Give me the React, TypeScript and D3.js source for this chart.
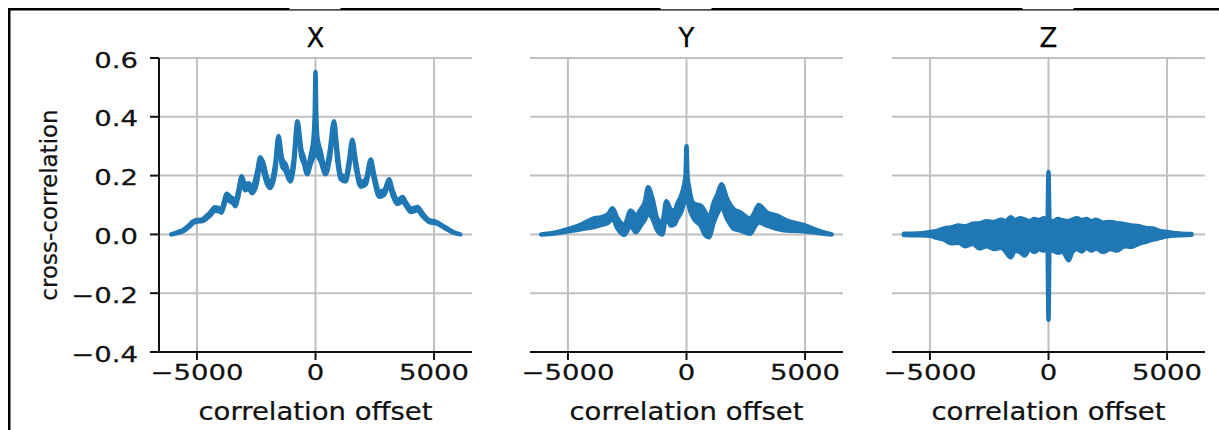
import * as d3 from "d3";

const offsetsX = [-6080, -5800, -5580, -5350, -5150, -4950, -4800, -4660, -4450, -4240, -4100, -3960, -3850, -3750, -3600, -3450, -3390, -3250, -3110, -2970, -2820, -2680, -2470, -2330, -2190, -2050, -1910, -1700, -1560, -1410, -1270, -1060, -920, -760, -600, -490, -350, -200, -80, -30, 0, 30, 80, 210, 424, 600, 780, 920, 1060, 1270, 1410, 1550, 1700, 1910, 2120, 2330, 2470, 2690, 2900, 3100, 3250, 3460, 3670, 3810, 4030, 4300, 4520, 4800, 5080, 5440, 5790, 6100];
const hiX = [0.0, 0.008, 0.015, 0.03, 0.045, 0.049, 0.05, 0.058, 0.074, 0.092, 0.09, 0.086, 0.115, 0.138, 0.128, 0.118, 0.106, 0.15, 0.198, 0.168, 0.174, 0.16, 0.21, 0.262, 0.24, 0.195, 0.172, 0.24, 0.335, 0.258, 0.24, 0.196, 0.255, 0.385, 0.29, 0.262, 0.222, 0.27, 0.33, 0.42, 0.552, 0.42, 0.33, 0.285, 0.222, 0.285, 0.385, 0.285, 0.205, 0.195, 0.25, 0.322, 0.25, 0.178, 0.188, 0.255, 0.205, 0.145, 0.15, 0.188, 0.15, 0.116, 0.127, 0.11, 0.088, 0.093, 0.071, 0.048, 0.043, 0.026, 0.009, 0.0];
const loX = [0.0, 0.005, 0.011, 0.024, 0.039, 0.044, 0.045, 0.05, 0.064, 0.08, 0.08, 0.074, 0.1, 0.122, 0.112, 0.104, 0.096, 0.13, 0.18, 0.15, 0.156, 0.14, 0.175, 0.24, 0.21, 0.172, 0.158, 0.212, 0.31, 0.232, 0.216, 0.18, 0.228, 0.36, 0.265, 0.24, 0.205, 0.24, 0.27, 0.35, 0.54, 0.35, 0.27, 0.25, 0.205, 0.255, 0.36, 0.25, 0.188, 0.18, 0.225, 0.3, 0.225, 0.162, 0.17, 0.232, 0.185, 0.128, 0.135, 0.17, 0.133, 0.104, 0.112, 0.098, 0.076, 0.082, 0.062, 0.042, 0.038, 0.022, 0.007, 0.0];

const offsetsY = [-6130, -5570, -4870, -4400, -3960, -3610, -3300, -3120, -2910, -2630, -2350, -2140, -1930, -1760, -1620, -1430, -1230, -1020, -850, -670, -500, -390, -180, -40, 0, 40, 100, 310, 590, 800, 940, 1150, 1300, 1470, 1710, 1990, 2270, 2690, 2870, 3040, 3390, 3810, 4230, 4930, 5630, 6120];
const hiY = [0.0, 0.006, 0.021, 0.035, 0.053, 0.058, 0.07, 0.089, 0.055, 0.032, 0.081, 0.064, 0.086, 0.11, 0.16, 0.121, 0.053, 0.041, 0.113, 0.086, 0.08, 0.104, 0.143, 0.2, 0.3, 0.2, 0.165, 0.104, 0.098, 0.075, 0.053, 0.109, 0.135, 0.171, 0.121, 0.086, 0.075, 0.053, 0.075, 0.1, 0.075, 0.064, 0.047, 0.032, 0.011, 0.0];
const loY = [0.0, 0.003, 0.012, 0.018, 0.024, 0.032, 0.04, 0.053, 0.02, -0.002, 0.03, 0.007, 0.03, 0.05, 0.07, 0.053, 0.013, 0.0, 0.064, 0.03, 0.035, 0.053, 0.086, 0.14, 0.18, 0.13, 0.098, 0.053, 0.03, -0.004, -0.01, 0.041, 0.07, 0.092, 0.053, 0.019, 0.013, 0.002, 0.025, 0.041, 0.03, 0.019, 0.013, 0.011, 0.004, 0.0];

const offsetsZ = [-6100, -5500, -5000, -4700, -4400, -4100, -3800, -3500, -3200, -2900, -2600, -2300, -2000, -1800, -1600, -1400, -1200, -1000, -800, -600, -400, -200, -40, 0, 40, 200, 400, 600, 850, 1000, 1200, 1400, 1600, 1800, 2000, 2300, 2600, 2900, 3200, 3500, 3800, 4100, 4400, 4700, 5000, 5500, 6030];
const hiZ = [0.002, 0.003, 0.008, 0.012, 0.02, 0.024, 0.03, 0.028, 0.036, 0.038, 0.045, 0.042, 0.05, 0.045, 0.058, 0.048, 0.055, 0.05, 0.045, 0.052, 0.048, 0.055, 0.05, 0.212, 0.05, 0.045, 0.052, 0.048, 0.045, 0.05, 0.055, 0.048, 0.052, 0.045, 0.05, 0.04, 0.042, 0.038, 0.035, 0.03, 0.028, 0.022, 0.02, 0.012, 0.008, 0.003, 0.001];
const loZ = [-0.002, -0.003, -0.005, -0.012, -0.018, -0.03, -0.028, -0.04, -0.032, -0.048, -0.04, -0.05, -0.045, -0.06, -0.078, -0.055, -0.06, -0.072, -0.05, -0.06, -0.05, -0.055, -0.05, -0.29, -0.05, -0.055, -0.062, -0.058, -0.088, -0.06, -0.05, -0.058, -0.045, -0.055, -0.048, -0.06, -0.05, -0.055, -0.04, -0.042, -0.032, -0.025, -0.018, -0.012, -0.006, -0.003, -0.001];

const titles = ["X", "Y", "Z"];
const xTicks = [-5000, 0, 5000];
const yTicks = [-0.4, -0.2, 0.0, 0.2, 0.4, 0.6];

const W = 313;
const TOP = 58;
const H = 294;
const lefts = [159, 530, 892];
const FONT = "DejaVu Sans";
const BLUE = "#1f77b4";
const INK = "#111";

// the reference text is slightly soft, a thin outline gives it the same weight
const textStyle = { fontFamily: FONT, fill: INK, stroke: INK, strokeWidth: 0.25 };

function Panel({ title, offsets, hi, lo, left, showY }) {
  const x = d3.scaleLinear().domain([-6600, 6600]).range([0, W]);
  const y = d3.scaleLinear().domain([-0.4, 0.6]).range([H, 0]);
  const idx = d3.range(offsets.length);
  const band = d3
    .area<number>()
    .x((i) => x(offsets[i]))
    .y0((i) => y(lo[i]))
    .y1((i) => y(hi[i]))
    .curve(d3.curveMonotoneX);
  const fx = d3.format("d");
  const fy = d3.format(".1f");

  return (
    <g transform={`translate(${left},${TOP})`}>
      {/* grid */}
      {yTicks.map((t) => (
        <line key={"gy" + t} x1={0} x2={W} y1={y(t)} y2={y(t)} stroke="#c0c0c0" strokeWidth={2} />
      ))}
      {xTicks.map((t) => (
        <line key={"gx" + t} x1={x(t)} x2={x(t)} y1={0} y2={H} stroke="#c0c0c0" strokeWidth={2} />
      ))}

      <path d={band(idx)} fill={BLUE} stroke={BLUE} strokeWidth={4.5} strokeLinejoin="round" />

      {/* bottom axis */}
      <line x1={showY ? -1 : 0} x2={W} y1={H} y2={H} stroke={INK} strokeWidth={2} />
      {xTicks.map((t) => (
        <g key={"tx" + t}>
          <line x1={x(t)} x2={x(t)} y1={H} y2={H + 8} stroke={INK} strokeWidth={2} />
          <text
            transform={`translate(${x(t)},${H + 28}) scale(1.25,1)`}
            textAnchor="middle"
            fontSize={22}
            style={textStyle}
          >
            {fx(t)}
          </text>
        </g>
      ))}

      {showY && (
        <g>
          <line x1={0} x2={0} y1={0} y2={H + 1} stroke={INK} strokeWidth={2} />
          {yTicks.map((t) => (
            <g key={"ty" + t}>
              <line x1={-9} x2={0} y1={y(t)} y2={y(t)} stroke={INK} strokeWidth={2} />
              <text
                transform={`translate(-21,${y(t) + 9.5}) scale(1.25,1)`}
                textAnchor="end"
                fontSize={22}
                style={textStyle}
              >
                {fy(t)}
              </text>
            </g>
          ))}
          <text
            transform={`translate(-102,${H / 2}) rotate(-90)`}
            textAnchor="middle"
            fontSize={23}
            style={textStyle}
          >
            cross-correlation
          </text>
        </g>
      )}

      <text x={W / 2} y={-11} textAnchor="middle" fontSize={26} style={{ ...textStyle, fill: "#000", stroke: "#000" }}>
        {title}
      </text>
      <text
        transform={`translate(${W / 2},${H + 68}) scale(1.1,1)`}
        textAnchor="middle"
        fontSize={25}
        style={textStyle}
      >
        correlation offset
      </text>
    </g>
  );
}

export default function App() {
  const series = [
    [offsetsX, hiX, loX],
    [offsetsY, hiY, loY],
    [offsetsZ, hiZ, loZ],
  ];
  return (
    <svg
      width={1219}
      height={430}
      style={{ position: "absolute", left: 0, top: 0, background: "#fff" }}
    >
      <rect x={0} y={0} width={1219} height={430} fill="#fff" />
      {/* frame of the screenshot */}
      <rect x={8} y={8} width={1211} height={2.5} fill="#000" />
      <rect x={8} y={8} width={2.5} height={422} fill="#000" />
      {lefts.map((l) => (
        <rect key={"notch" + l} x={l + W / 2 - 26} y={8} width={51} height={1.3} fill="#fff" />
      ))}
      {series.map(([o, h, lo], i) => (
        <Panel
          key={titles[i]}
          title={titles[i]}
          offsets={o}
          hi={h}
          lo={lo}
          left={lefts[i]}
          showY={i === 0}
        />
      ))}
    </svg>
  );
}
